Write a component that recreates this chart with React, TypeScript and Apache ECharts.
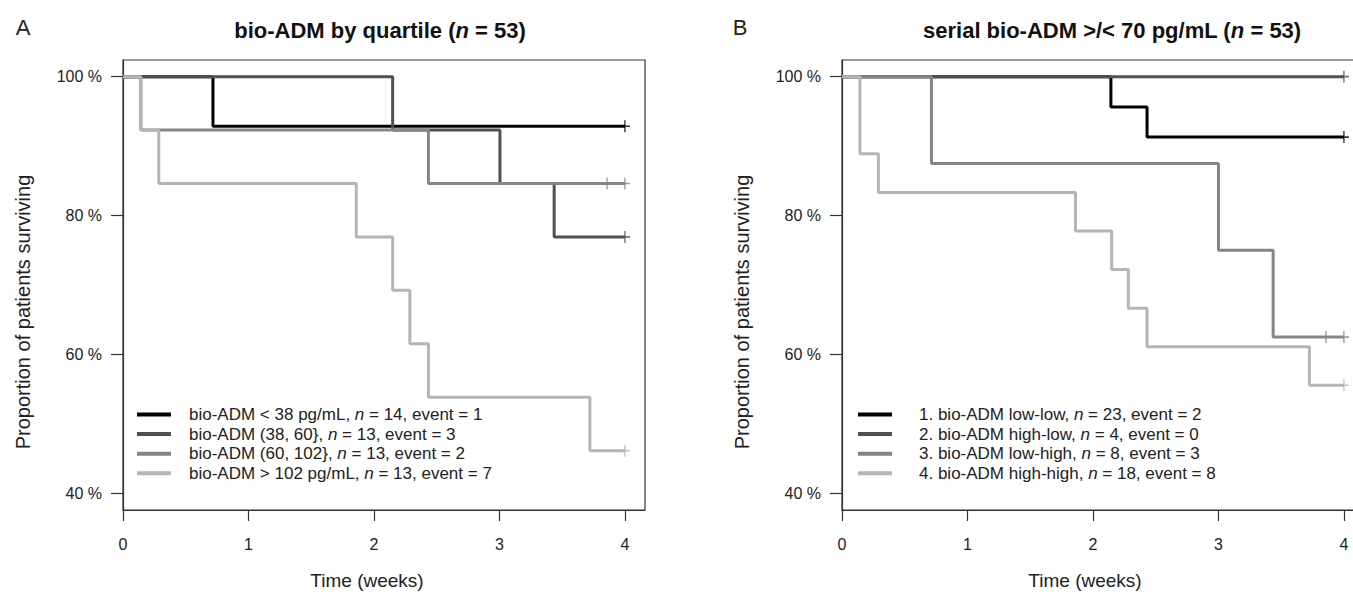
import React, { useEffect, useRef } from "react";
import * as echarts from "echarts";

const FONT = '"Liberation Sans", Arial, Helvetica, sans-serif';

// axis ticks
const weekTicks = [0, 1, 2, 3, 4];
const survTicks = [40, 60, 80, 100];

// Panel A: bio-ADM by quartile (Kaplan–Meier step points)
const aNames = [
  "bio-ADM < 38 pg/mL, n = 14, event = 1",
  "bio-ADM (38, 60}, n = 13, event = 3",
  "bio-ADM (60, 102}, n = 13, event = 2",
  "bio-ADM > 102 pg/mL, n = 13, event = 7",
];
const a1Time = [0, 0.717, 4];
const a1Surv = [100, 92.86, 92.86];
const a1Censor = [4];
const a2Time = [0, 2.149, 3.004, 3.436, 4];
const a2Surv = [100, 92.31, 84.62, 76.92, 76.92];
const a2Censor = [4];
const a3Time = [0, 0.142, 2.434, 4];
const a3Surv = [100, 92.31, 84.62, 84.62];
const a3Censor = [3.858, 4];
const a4Time = [0, 0.142, 0.285, 1.859, 2.149, 2.286, 2.434, 3.721, 4];
const a4Surv = [100, 92.31, 84.62, 76.92, 69.23, 61.54, 53.85, 46.15, 46.15];
const a4Censor = [4];

// Panel B: serial bio-ADM >/< 70 pg/mL
const bNames = [
  "1. bio-ADM low-low, n = 23, event = 2",
  "2. bio-ADM high-low, n = 4, event = 0",
  "3. bio-ADM low-high, n = 8, event = 3",
  "4. bio-ADM high-high, n = 18, event = 8",
];
const b1Time = [0, 2.143, 2.431, 4];
const b1Surv = [100, 95.65, 91.3, 91.3];
const b1Censor = [4];
const b2Time = [0, 4];
const b2Surv = [100, 100];
const b2Censor = [4];
const b3Time = [0, 0.713, 3.0, 3.436, 4];
const b3Surv = [100, 87.5, 75, 62.5, 62.5];
const b3Censor = [3.857, 4];
const b4Time = [0, 0.143, 0.29, 1.861, 2.149, 2.282, 2.431, 3.725, 4];
const b4Surv = [100, 88.89, 83.33, 77.78, 72.22, 66.67, 61.11, 55.56, 55.56];
const b4Censor = [4];

const greys = ["#000000", "#505050", "#858585", "#b5b5b5"];

function survAt(times: number[], surv: number[], t: number) {
  let v = surv[0];
  for (let i = 0; i < times.length; i++) if (times[i] <= t) v = surv[i];
  return v;
}

function kmLine(name: string, times: number[], surv: number[], color: string, idx: number) {
  return {
    type: "line",
    name,
    xAxisIndex: idx,
    yAxisIndex: idx,
    step: "end",
    symbol: "none",
    showSymbol: false,
    silent: true,
    data: times.map((t, i) => [t, surv[i]]),
    lineStyle: { color, width: 3 },
    itemStyle: { color },
  };
}

function censor(name: string, times: number[], surv: number[], cens: number[], color: string, idx: number) {
  return {
    type: "scatter",
    name: name + " (censored)",
    xAxisIndex: idx,
    yAxisIndex: idx,
    silent: true,
    symbol: "path://M5,0L5,12M0,6L10,6",
    symbolSize: [10, 12],
    data: cens.map((t) => [t, survAt(times, surv, t)]),
    itemStyle: { color: "none", borderColor: color, borderWidth: 1.5 },
  };
}

function xAxis(idx: number) {
  return {
    type: "value",
    gridIndex: idx,
    min: 0,
    max: 4.16,
    axisLine: { show: true, lineStyle: { color: "#333", width: 1.2 } },
    axisTick: { show: true, length: 11, customValues: weekTicks, lineStyle: { color: "#333", width: 1.2 } },
    axisLabel: { customValues: weekTicks, fontSize: 16, color: "#222", margin: 26, fontFamily: FONT },
    splitLine: { show: false },
  };
}

function yAxis(idx: number) {
  return {
    type: "value",
    gridIndex: idx,
    min: 37.6,
    max: 102.4,
    axisLine: { show: true, lineStyle: { color: "#333", width: 1.2 } },
    axisTick: { show: true, length: 12, customValues: survTicks, lineStyle: { color: "#333", width: 1.2 } },
    axisLabel: { customValues: survTicks, formatter: "{value} %", fontSize: 16, color: "#222", margin: 21, fontFamily: FONT },
    splitLine: { show: false },
  };
}

function legend(names: string[], left: number, gapText: number) {
  return {
    orient: "vertical",
    left,
    top: 406,
    padding: 0,
    itemGap: 2.6,
    itemWidth: 34,
    itemHeight: 4,
    icon: "rect",
    selectedMode: false,
    data: names,
    formatter: (n: string) => n.replace(", n =", ", {i|n} ="),
    textStyle: {
      fontFamily: FONT,
      fontSize: 17,
      lineHeight: 17,
      color: "#222",
      padding: [0, 0, 0, gapText],
      rich: { i: { fontStyle: "italic", fontFamily: FONT, fontSize: 17, color: "#222" } },
    },
  };
}

function titleText(x: number, pre: string) {
  const base = { fontFamily: FONT, fontSize: 22, fontWeight: "bold", fill: "#111" };
  return {
    type: "text",
    x,
    y: 30,
    style: {
      text: "{b|" + pre + "(}{bi|n}{b| = 53)}",
      textAlign: "center",
      textVerticalAlign: "middle",
      rich: { b: base, bi: { ...base, fontStyle: "italic" } },
    },
  };
}

function plainText(x: number, y: number, text: string, size: number, rotation = 0) {
  return {
    type: "text",
    x,
    y,
    rotation,
    style: {
      text,
      fontFamily: FONT,
      fontSize: size,
      fill: "#222",
      textAlign: "center",
      textVerticalAlign: "middle",
    },
  };
}

export default function App() {
  const ref = useRef<HTMLDivElement>(null);
  useEffect(() => {
    if (!ref.current) return;
    const chart = echarts.init(ref.current, undefined, { renderer: "svg" });
    const aData = [
      [a1Time, a1Surv, a1Censor],
      [a2Time, a2Surv, a2Censor],
      [a3Time, a3Surv, a3Censor],
      [a4Time, a4Surv, a4Censor],
    ];
    const bData = [
      [b1Time, b1Surv, b1Censor],
      [b2Time, b2Surv, b2Censor],
      [b3Time, b3Surv, b3Censor],
      [b4Time, b4Surv, b4Censor],
    ];
    const series: any[] = [];
    aData.forEach((d, i) => series.push(kmLine(aNames[i], d[0], d[1], greys[i], 0)));
    bData.forEach((d, i) => series.push(kmLine(bNames[i], d[0], d[1], greys[i], 1)));
    aData.forEach((d, i) => series.push(censor(aNames[i], d[0], d[1], d[2], greys[i], 0)));
    bData.forEach((d, i) => series.push(censor(bNames[i], d[0], d[1], d[2], greys[i], 1)));

    chart.setOption({
      animation: false,
      backgroundColor: "#ffffff",
      grid: [
        { left: 123, top: 60, width: 522, height: 450, show: true, borderColor: "#333", borderWidth: 1.2, outerBoundsMode: "none", containLabel: false },
        { left: 842, top: 60, width: 522, height: 450, show: true, borderColor: "#333", borderWidth: 1.2, outerBoundsMode: "none", containLabel: false },
      ],
      xAxis: [xAxis(0), xAxis(1)],
      yAxis: [yAxis(0), yAxis(1)],
      legend: [legend(aNames, 137, 13), legend(bNames, 858, 22)],
      graphic: [
        plainText(23, 27, "A", 22),
        plainText(740, 27, "B", 22),
        titleText(380, "bio-ADM by quartile "),
        titleText(1112, "serial bio-ADM >/< 70 pg/mL "),
        plainText(23, 312, "Proportion of patients surviving", 20, Math.PI / 2),
        plainText(742, 312, "Proportion of patients surviving", 20, Math.PI / 2),
        plainText(367, 580, "Time (weeks)", 19),
        plainText(1085, 580, "Time (weeks)", 19),
      ],
      series,
    });
    return () => chart.dispose();
  }, []);
  return (
    <div
      ref={ref}
      style={{ position: "absolute", left: 0, top: 0, width: 1353, height: 592 }}
    />
  );
}
